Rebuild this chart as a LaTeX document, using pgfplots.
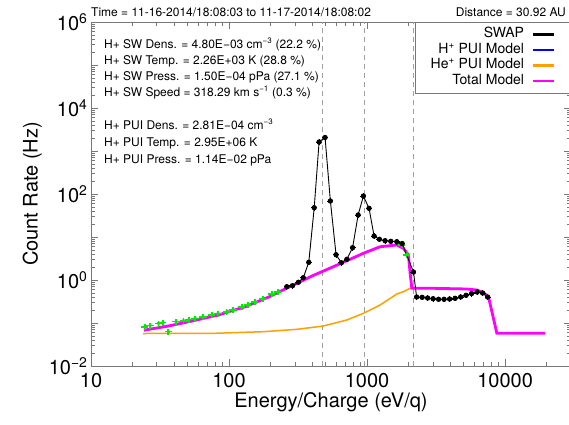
\documentclass[border=0pt]{standalone}
\usepackage{fontspec}
\setmainfont{TeX Gyre Heros}
\usepackage{pgfplots}
\pgfplotsset{compat=1.18}
\definecolor{swgreen}{RGB}{0,235,0}
\definecolor{tmag}{RGB}{255,0,255}
\definecolor{heor}{RGB}{255,160,0}
\definecolor{axgray}{RGB}{120,120,120}
\begin{document}
\begin{tikzpicture}
\useasboundingbox (-91pt,-58pt) rectangle (478pt,366pt);
\begin{axis}[
  at={(0pt,0pt)}, anchor=south west,
  scale only axis, width=480pt, height=344pt,
  xmode=log, ymode=log,
  xmin=10, xmax=30000, ymin=1e-2, ymax=1e6,
  axis line style={axgray, line width=0.9pt},
  every tick/.style={axgray, line width=0.8pt},
  major tick length=7pt, minor tick length=4pt,
  xtick={10,100,1000,10000},
  xticklabels={10,100,1000,10000},
  minor xtick={20,30,40,50,60,70,80,90,200,300,400,500,600,700,800,900,2000,3000,4000,5000,6000,7000,8000,9000,20000},
  ytick={1e-2,1e-1,1,10,100,1e3,1e4,1e5,1e6},
  yticklabels={10\textsuperscript{−2},,10\textsuperscript{0},,10\textsuperscript{2},,10\textsuperscript{4},,10\textsuperscript{6}},
  /pgf/number format/assume math mode=true,
  tick label style={font=\fontsize{20}{22}\selectfont},
  xticklabel style={yshift=-4pt},
  label style={font=\fontsize{20}{22}\selectfont},
  xlabel={Energy/Charge (eV/q)},
  ylabel={Count Rate (Hz)},
  xlabel style={yshift=2pt},
  legend plot pos=right,
  legend cell align=right,
  legend image code/.code={\draw[#1, line width=2.6pt] (0pt,0pt) -- (21pt,0pt);},
  legend style={at={(1,1)}, anchor=north east, draw=axgray, line width=0.8pt,
    font=\fontsize{14}{14}\selectfont, inner xsep=15pt, inner ysep=5.5pt,
    row sep=2.5pt, column sep=8pt,
    nodes={inner sep=0pt, text height=10pt, text depth=3pt}},
]
% dashed reference lines
\addplot[axgray!70, dashed, line width=0.8pt, dash pattern=on 5pt off 4pt, forget plot] coordinates {(477,1e-2) (477,1e6)};
\addplot[axgray!70, dashed, line width=0.8pt, dash pattern=on 5pt off 4pt, forget plot] coordinates {(951,1e-2) (951,1e6)};
\addplot[axgray!70, dashed, line width=0.8pt, dash pattern=on 5pt off 4pt, forget plot] coordinates {(2168,1e-2) (2168,1e6)};

\addlegendimage{black}
\addlegendentry{SWAP}
\addlegendimage{blue}
\addlegendentry{H\textsuperscript{+} PUI Model}

% He+ PUI model
\addplot[heor, line width=1.5pt] coordinates {
(23.9,0.057) (76.9,0.0575) (177,0.0628) (310,0.0713) (482,0.0851) (713,0.1175)
(940,0.168) (1242,0.262) (1641,0.472) (1833,0.535) (2050,0.641) (2168,0.698)
};
\addlegendentry{He\textsuperscript{+} PUI Model}

% Total model
\addplot[tmag, line width=2.8pt] coordinates {
(24.2,0.0680) (36.3,0.0851) (53.7,0.111) (83.2,0.153) (131,0.239) (193,0.40) (250,0.60)
(408,1.28) (570,2.04) (940,4.18) (1242,5.94) (1641,6.52) (1833,5.46) (1992,3.81) (2050,1.43)
(2110,0.641) (3020,0.641) (5270,0.618) (6235,0.585) (6930,0.512) (7570,0.409)
(8710,0.0575) (19500,0.0575)
};
\addlegendentry{Total Model}

% green (SW) points
\addplot[swgreen, only marks, mark=*, mark size=1.8pt, forget plot,
  error bars/.cd, x dir=both, x fixed relative=0.06, y dir=both, y fixed relative=0.16,
  error mark=none, error bar style={line width=1.6pt}] coordinates {
(24.6,0.082) (26.8,0.0875) (30.8,0.0984) (33.2,0.1028) (36.3,0.0628) (41.3,0.108)
(46.7,0.113) (51.3,0.1206) (56.7,0.1286) (64.8,0.138) (75,0.1535) (83.2,0.166)
(96.1,0.183) (107,0.2) (124,0.239) (137,0.262) (154,0.313) (176,0.361) (204,0.472)
(226,0.526) (1783,6.52) (1941,3.87)
};

% black SWAP points
\addplot[black, line width=0.9pt, mark=*, mark size=2.2pt, forget plot,
  error bars/.cd, x dir=both, x fixed relative=0.05, y dir=both, y fixed relative=0.15,
  error mark=none, error bar style={line width=0.9pt}] coordinates {
(262,0.698) (288,0.736) (318,0.885) (345,1.13) (378,2.58) (414,48) (449,1620) (496,2060)
(542,68.7) (596,3.87) (651,2.52) (713,3.03) (785,5.64) (861,32.5) (940,89.7) (1033,46.5)
(1124,10.5) (1228,8.85) (1350,8.2) (1485,7.94) (1641,7.78) (1795,7.06) (2168,1.53)
(2285,0.403) (2506,0.396) (2744,0.381) (3006,0.367) (3294,0.356) (3610,0.356) (3960,0.361)
(4340,0.375) (4760,0.403) (5210,0.441) (5715,0.485) (6265,0.526) (6870,0.499) (7465,0.403)
};
\end{axis}
\begin{scope}[every node/.style={inner sep=0pt, anchor=base west, font=\fontsize{12}{14}\selectfont}]
\node at (0pt,349pt) {Time = 11-16-2014/18:08:03 to 11-17-2014/18:08:02};
\node[anchor=base east] at (475pt,349pt) {Distance = 30.92 AU};
\node at (13pt,317.7pt) {H+ SW Dens. = 4.80E−03 cm\textsuperscript{−3} (22.2 \%)};
\node at (13pt,301.7pt) {H+ SW Temp. = 2.26E+03 K (28.8 \%)};
\node at (13pt,285.7pt) {H+ SW Press. = 1.50E−04 pPa (27.1 \%)};
\node at (13pt,269.7pt) {H+ SW Speed = 318.29 km s\textsuperscript{−1} (0.3 \%)};
\node at (13pt,237pt) {H+ PUI Dens. = 2.81E−04 cm\textsuperscript{−3}};
\node at (13pt,220pt) {H+ PUI Temp. = 2.95E+06 K};
\node at (13pt,203pt) {H+ PUI Press. = 1.14E−02 pPa};
\end{scope}
\end{tikzpicture}
\end{document}
